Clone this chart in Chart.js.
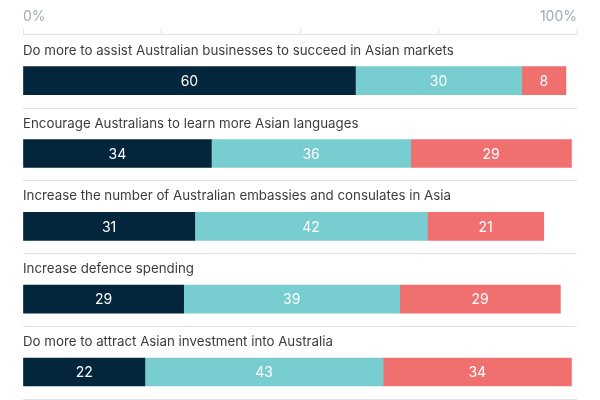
<!DOCTYPE html>
<html>
<head>
<meta charset="utf-8">
<script src="https://cdn.jsdelivr.net/npm/chart.js@4/dist/chart.umd.min.js"></script>
<style>
  html, body { margin: 0; padding: 0; background: #ffffff; }
  #wrap { width: 600px; height: 400px; }
</style>
</head>
<body>
<div id="wrap"><canvas id="c" width="600" height="400"></canvas></div>
<script>
const categories = [
  "Do more to assist Australian businesses to succeed in Asian markets",
  "Encourage Australians to learn more Asian languages",
  "Increase the number of Australian embassies and consulates in Asia",
  "Increase defence spending",
  "Do more to attract Asian investment into Australia"
];
const seriesNavy = [60, 34, 31, 29, 22];
const seriesTeal = [30, 36, 42, 39, 43];
const seriesSalmon = [8, 29, 21, 29, 34];
const tickLabels = { 0: "0%", 100: "100%" };

const FONT = "Inter, 'Open Sans', sans-serif";

function toPoints(arr) { return arr.map((v, i) => ({ x: v, y: i })); }

const labelPlugin = {
  id: 'rowLabels',
  afterDatasetsDraw(chart) {
    const ctx = chart.ctx;
    const ys = chart.scales.y;
    const left = chart.chartArea.left;
    ctx.save();
    ctx.font = "13.3px " + FONT;
    ctx.fillStyle = "#3c3c3c";
    ctx.textAlign = "left";
    ctx.textBaseline = "middle";
    categories.forEach((c, i) => {
      ctx.fillText(c, left, ys.getPixelForValue(i) - 30);
    });
    ctx.font = "14px " + FONT;
    ctx.fillStyle = "#ffffff";
    ctx.textAlign = "center";
    chart.data.datasets.forEach((ds, di) => {
      const meta = chart.getDatasetMeta(di);
      meta.data.forEach((bar, i) => {
        const p = bar.getProps(['x', 'y', 'base'], true);
        ctx.fillText(String(ds.data[i].x), (p.x + p.base) / 2, p.y + 1);
      });
    });
    ctx.restore();
  }
};

new Chart(document.getElementById('c'), {
  type: 'bar',
  data: {
    datasets: [
      { label: 'A', data: toPoints(seriesNavy), backgroundColor: '#03263d' },
      { label: 'B', data: toPoints(seriesTeal), backgroundColor: '#78cdd0' },
      { label: 'C', data: toPoints(seriesSalmon), backgroundColor: '#f06f6f' }
    ]
  },
  options: {
    indexAxis: 'y',
    responsive: false,
    animation: false,
    barThickness: 28,
    layout: { padding: { left: 23, right: 23, top: 4, bottom: 0 } },
    plugins: { legend: { display: false }, tooltip: { enabled: false } },
    scales: {
      x: {
        type: 'linear',
        position: 'top',
        stacked: true,
        min: 0, max: 100,
        offset: false,
        border: { display: true, color: '#dde3e9', width: 1 },
        grid: { drawOnChartArea: false, drawTicks: true, tickLength: 6, color: '#dde3e9', offset: false },
        ticks: {
          stepSize: 25,
          align: 'inner',
          padding: 4,
          maxRotation: 0,
          autoSkip: false,
          color: '#a0a8b1',
          font: { family: FONT, size: 14 },
          callback: (v) => tickLabels[v] || ''
        }
      },
      y: {
        type: 'linear',
        stacked: true,
        reverse: true,
        offset: false,
        min: -0.63,
        max: 4.384,
        border: { display: false },
        grid: { color: '#dde3e9', lineWidth: 1, drawTicks: false, offset: false },
        ticks: { display: false },
        afterBuildTicks: (scale) => {
          scale.ticks = categories.map((c, i) => ({ value: i + 0.377 }));
        }
      }
    }
  },
  plugins: [labelPlugin]
});
</script>
</body>
</html>
